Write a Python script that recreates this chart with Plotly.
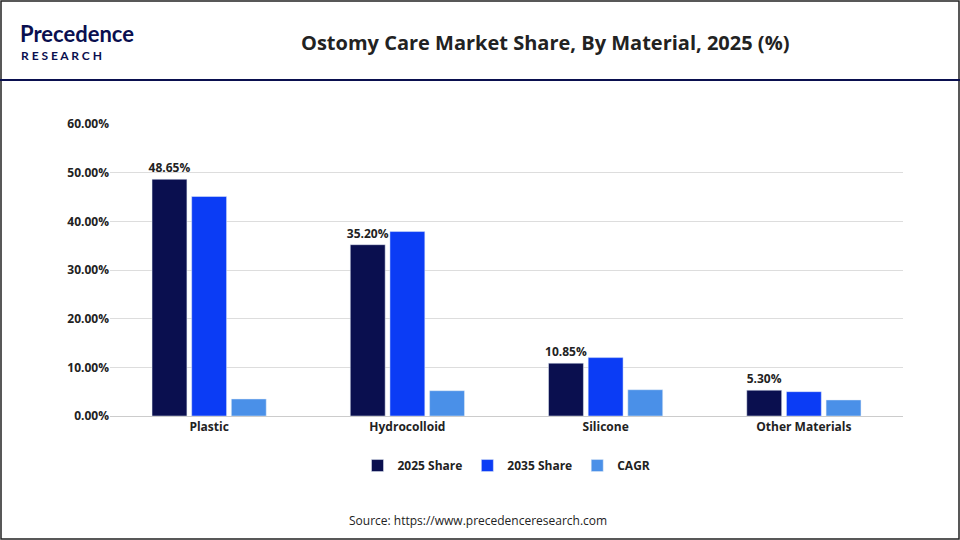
import plotly.graph_objects as go

materials = ['Plastic', 'Hydrocolloid', 'Silicone', 'Other Materials']
share_2025 = [48.65, 35.20, 10.85, 5.30]
share_2035 = [45.1, 37.9, 12.0, 5.0]
cagr = [3.5, 5.2, 5.4, 3.3]
labels_2025 = ['<b>48.65%</b>', '<b>35.20%</b>', '<b>10.85%</b>', '<b>5.30%</b>']

fig = go.Figure()
fig.add_bar(x=materials, y=share_2025, name='<b>2025 Share</b>', marker_color='#0a0f4f',
            text=labels_2025, textposition='outside', cliponaxis=False, constraintext='none',
            textfont=dict(size=12, color='#222', family='Open Sans'))
fig.add_bar(x=materials, y=share_2035, name='<b>2035 Share</b>', marker_color='#0b3cf5')
fig.add_bar(x=materials, y=cagr, name='<b>CAGR</b>', marker_color='#4a90e8')

fig.update_layout(
    width=960, height=540, paper_bgcolor='white', plot_bgcolor='white',
    margin=dict(l=110, r=57, t=124, b=124),
    barmode='group', bargap=0.4, bargroupgap=0.12,
    font=dict(family='Open Sans', size=12, color='#222'),
    showlegend=True,
    legend=dict(orientation='h', x=0.5, xanchor='center', y=-0.12, yanchor='top',
                font=dict(size=12), itemwidth=30),
    xaxis=dict(showline=True, linecolor='#ccc', tickfont=dict(size=12, color='#222'),
               tickvals=materials, ticktext=['<b>%s</b>' % m for m in materials]),
    yaxis=dict(range=[0, 60], tickvals=[0, 10, 20, 30, 40, 50, 60],
               ticktext=['<b>%d.00%%</b>' % v for v in [0, 10, 20, 30, 40, 50, 60]],
               gridcolor='#ddd', tickfont=dict(size=12, color='#222'), zeroline=False),
    shapes=[
        dict(type='rect', xref='paper', yref='paper', x0=-109/793, x1=1+56/793,
             y0=-123/292, y1=1+123/292, line=dict(color='#222', width=1.5)),
        dict(type='line', xref='paper', yref='paper', x0=-110/793, x1=1+57/793,
             y0=1+44/292, y1=1+44/292, line=dict(color='#0a0f4f', width=2)),
    ],
    annotations=[
        dict(text='<b>Ostomy Care Market Share, By Material, 2025 (%)</b>', xref='paper',
             yref='paper', x=(545-110)/793, y=1+82/292, yanchor='middle', showarrow=False,
             font=dict(size=20, color='#222')),
        dict(text='<b>Precedence</b>', xref='paper',
             yref='paper', x=-92/793, y=1+91/292, xanchor='left', yanchor='middle',
             showarrow=False, font=dict(size=22, color='#0a0f4f', family='Lato')),
        dict(text='<b>R E S E A R C H</b>', xref='paper', yref='paper', x=-91/793,
             y=1+68/292, xanchor='left', yanchor='middle', showarrow=False,
             font=dict(size=12, color='#0a0f4f', family='Lato')),
        dict(text='Source: https://www.precedenceresearch.com', xref='paper', yref='paper',
             x=(478-110)/793, y=-104/292, yanchor='middle', showarrow=False,
             font=dict(size=12, color='#222')),
    ],
)
fig.write_html('out.html', config={'displayModeBar': False},
               post_script="document.body.style.margin='0';")
